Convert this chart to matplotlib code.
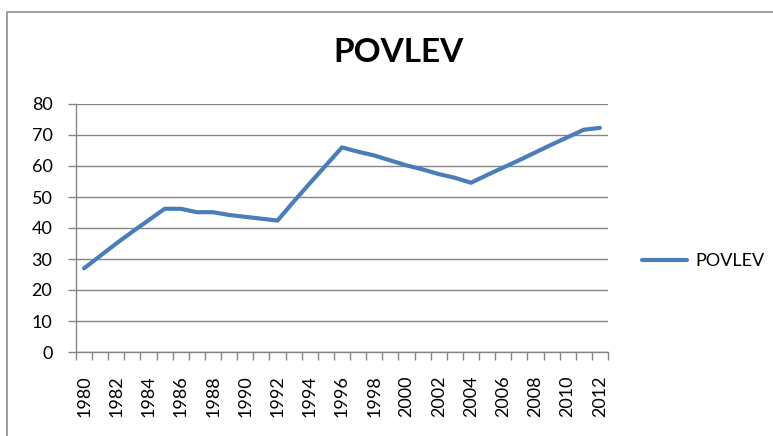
import matplotlib
matplotlib.use('Agg')
import matplotlib.pyplot as plt
from matplotlib.patches import Rectangle

# Data
years = list(range(1980, 2013))
povlev = [27.0, 31.0, 35.0, 38.8, 42.5, 46.2, 46.2, 45.1, 45.1, 44.2,
          43.6, 43.0, 42.4, 48.5, 54.4, 60.2, 66.0, 64.6, 63.4, 61.8,
          60.2, 58.9, 57.4, 56.2, 54.6, 57.1, 59.5, 61.9, 64.4, 66.9,
          69.3, 71.7, 72.3]
y_ticks = [0, 10, 20, 30, 40, 50, 60, 70, 80]

plt.rcParams['font.family'] = ['Lato', 'DejaVu Sans']

W, H = 773, 436
fig = plt.figure(figsize=(W / 100, H / 100), dpi=100)

# outer chart frame (cut off at right and bottom)
fig.patches.append(Rectangle((7 / W, -0.1), 1.2, 1.1 - 12 / H,
                             transform=fig.transFigure, fill=False,
                             edgecolor='#8c8c8c', linewidth=1.2))

ax = fig.add_axes([76 / W, (H - 352) / H, (608 - 76) / W, (352 - 104) / H])

x = list(range(len(years)))
line, = ax.plot(x, povlev, color='#4a7ebb', linewidth=3,
                solid_joinstyle='round', solid_capstyle='round',
                label='POVLEV', zorder=3)

ax.set_xlim(-0.5, len(years) - 0.5)
ax.set_ylim(0, 80)
ax.set_yticks(y_ticks)
ax.yaxis.grid(True, color='#868686', linewidth=1)
ax.set_axisbelow(True)

# label every second year, tick marks between categories
ax.set_xticks(x[::2])
ax.set_xticklabels([str(y) for y in years[::2]], rotation=90)
ax.set_xticks([i - 0.5 for i in range(len(years) + 1)], minor=True)
ax.tick_params(axis='x', which='major', length=0, pad=17, labelsize=13)
ax.tick_params(axis='x', which='minor', length=6, color='#868686', width=1)
ax.tick_params(axis='y', length=6, color='#868686', width=1, pad=11,
               labelsize=13)

for side in ['top', 'right']:
    ax.spines[side].set_visible(False)
for side in ['left', 'bottom']:
    ax.spines[side].set_color('#868686')
    ax.spines[side].set_linewidth(1)

fig.text(399 / W, 1 - 53 / H, 'POVLEV', ha='center', va='center',
         fontsize=24, fontweight='bold')

fig.legend(handles=[line], loc='center left',
           bbox_to_anchor=(642 / W, (H - 261) / H), frameon=False,
           fontsize=13, handlelength=2.5, handletextpad=0.45,
           borderpad=0, borderaxespad=0)

plt.savefig('out.png', dpi=100)
